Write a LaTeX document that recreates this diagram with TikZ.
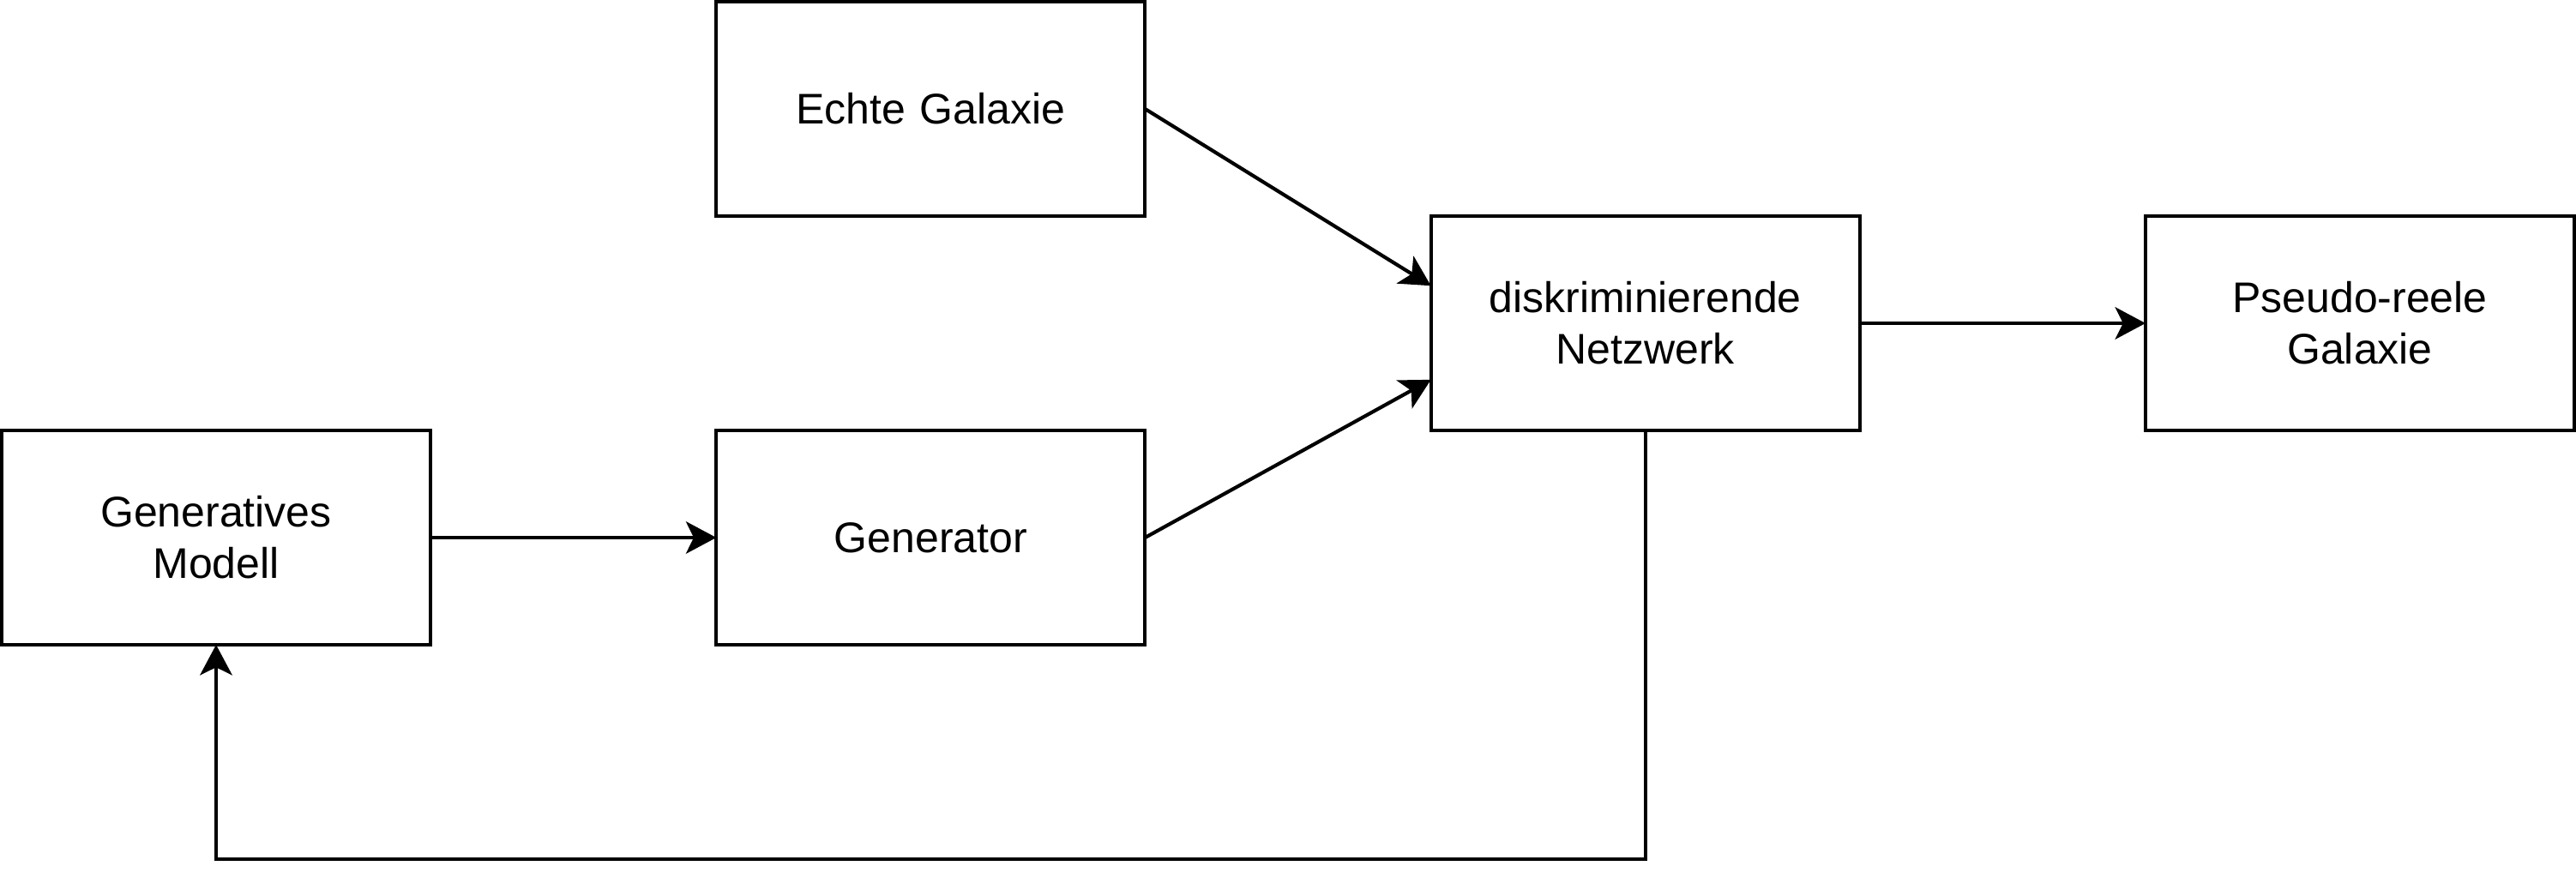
\documentclass[tikz,border=0pt]{standalone}
\usepackage{fontspec}
\setmainfont{Liberation Sans}
\usetikzlibrary{arrows.meta}
\tikzset{
  blk/.style={draw=black, line width=1pt, fill=white, rectangle, minimum width=120pt, minimum height=60pt,
    inner sep=0pt, outer sep=0pt, anchor=north west, align=center, text width=110pt,
    font=\fontsize{12}{14.4}\selectfont},
  arr/.style={draw=black, line width=1pt, -{Stealth[length=8.5pt,width=9pt,inset=2.2pt]}},
}
\begin{document}
\begin{tikzpicture}[x=1pt,y=-1pt]
\useasboundingbox (-0.48,-0.48) rectangle (720.48,248.6);
\node[blk] (eg) at (200,0) {Echte Galaxie};
\node[blk] (dn) at (400,60) {diskriminierende\\Netzwerk};
\node[blk] (pg) at (600,60) {Pseudo-reele\\Galaxie};
\node[blk] (gm) at (0,120) {Generatives\\Modell};
\node[blk] (gen) at (200,120) {Generator};
\coordinate (fb) at (60,240);
\draw[arr] (eg.east) -- ([yshift=-19.5pt]dn.north west);
\draw[arr] (gen.east) -- ([yshift=-45.8pt]dn.north west);
\draw[arr] (dn.east) -- (pg.west);
\draw[arr] (gm.east) -- (gen.west);
\draw[arr] (dn.south) |- (fb) -- (gm.south);
\end{tikzpicture}
\end{document}
